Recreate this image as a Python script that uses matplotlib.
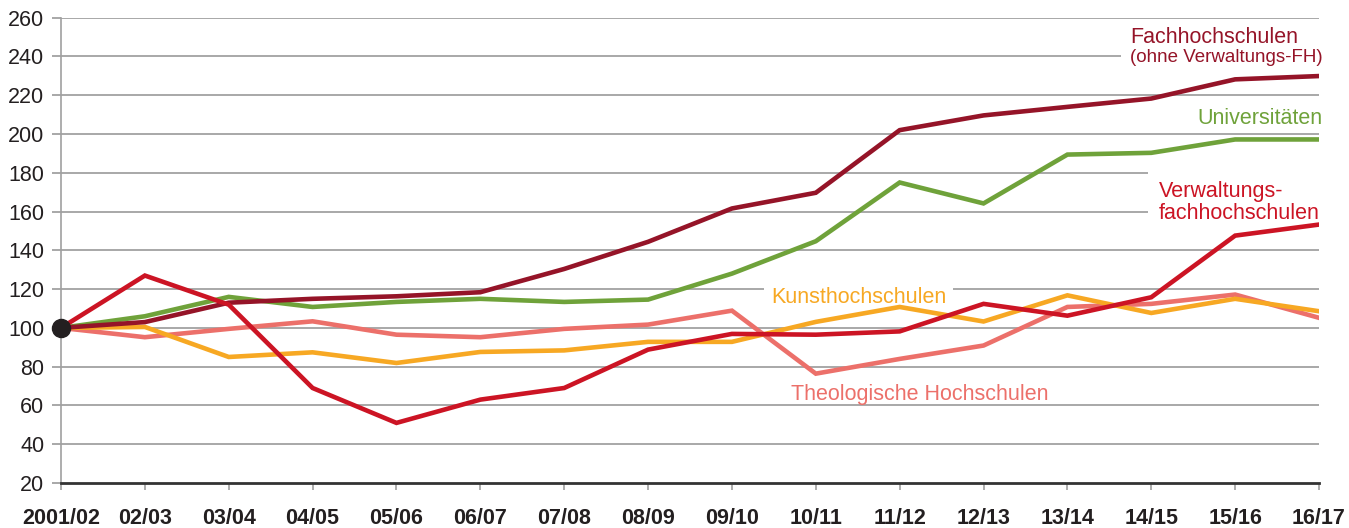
import matplotlib
matplotlib.use("Agg")
import matplotlib.pyplot as plt

plt.rcParams['font.family'] = ['Liberation Sans', 'DejaVu Sans']

years = ["2001/02", "02/03", "03/04", "04/05", "05/06", "06/07", "07/08", "08/09",
         "09/10", "10/11", "11/12", "12/13", "13/14", "14/15", "15/16", "16/17"]

fachhochschulen = [100, 103, 113, 115, 116.3, 118.4, 130.4, 144.4, 161.6, 169.7,
                   202, 209.6, 214, 218.3, 228.2, 229.9]
universitaeten = [100, 106, 116, 110.8, 113.4, 115, 113.4, 114.6, 128, 144.7,
                  175, 164.2, 189.4, 190.3, 197.2, 197.2]
verwaltungs_fh = [100, 127, 112, 69, 51, 63, 69, 88.8, 96.9, 96.5,
                  98.2, 112.4, 106.3, 115.8, 147.6, 153.3]
kunsthochschulen = [100, 100.5, 85, 87.4, 81.9, 87.6, 88.4, 92.8, 92.8, 103.1,
                    110.8, 103.3, 116.8, 107.7, 115, 108.6]
theologische = [100, 95.2, 99.5, 103.4, 96.5, 95.2, 99.5, 101.7, 108.9, 76.4,
                84, 90.9, 110.8, 112.4, 117.2, 105.2]

y_ticks = list(range(20, 261, 20))

c_fh = "#951428"
c_uni = "#6fa23a"
c_vfh = "#cc1424"
c_kunst = "#f7a823"
c_theo = "#ec706a"

fig = plt.figure(figsize=(13.49, 5.28), dpi=100)
ax = fig.add_axes([61/1349, 45/528, (1319-61)/1349, (510.3-45)/528])

x = list(range(len(years)))
ax.set_xlim(0, len(years) - 1)
ax.set_ylim(20, 260)

for yv in y_ticks[1:]:
    ax.axhline(yv, color="#a8a8a8", lw=1.4, zorder=1)

lw = 3.3
ax.plot(x, theologische, color=c_theo, lw=lw, zorder=3, solid_joinstyle="miter")
ax.plot(x, kunsthochschulen, color=c_kunst, lw=lw, zorder=3.1, solid_joinstyle="miter")
ax.plot(x, universitaeten, color=c_uni, lw=lw, zorder=3.2, solid_joinstyle="miter")
ax.plot(x, fachhochschulen, color=c_fh, lw=lw, zorder=3.3, solid_joinstyle="miter")
ax.plot(x, verwaltungs_fh, color=c_vfh, lw=lw, zorder=3.4, solid_joinstyle="miter")
ax.plot([0], [100], 'o', color="#231f20", ms=13, zorder=5, clip_on=False)

for s in ["top", "right"]:
    ax.spines[s].set_visible(False)
ax.spines["left"].set_color("#a0a0a0")
ax.spines["left"].set_linewidth(1.2)
ax.spines["bottom"].set_color("#333333")
ax.spines["bottom"].set_linewidth(2)
ax.spines["bottom"].set_zorder(4)

ax.set_xticks(x)
ax.set_xticklabels(years, fontsize=15.5, fontweight="bold", color="#231f20")
ax.set_yticks(y_ticks)
ax.set_yticklabels([str(v) for v in y_ticks], fontsize=15.5, color="#231f20")
ax.tick_params(axis="x", direction="out", length=5, width=1.2, color="#a0a0a0", pad=13)
ax.tick_params(axis="y", direction="out", length=6.5, width=1.4, color="#a8a8a8", pad=5.5)

ax.text(12.75, 239.5, "(ohne Verwaltungs-FH)", color=c_fh, fontsize=13.5, ha="left", va="center",
        zorder=2, bbox=dict(facecolor="white", edgecolor="none", pad=7))
ax.text(12.75, 249.8, "Fachhochschulen", color=c_fh, fontsize=15.5, ha="left", va="center", zorder=2.5)
ax.text(15.04, 208.0, "Universitäten", color=c_uni, fontsize=15.5, ha="right", va="center", zorder=2)
ax.text(13.09, 164.7, "Verwaltungs-\nfachhochschulen", color=c_vfh, fontsize=15.5, ha="left",
        va="center", zorder=2, linespacing=1.02, bbox=dict(facecolor="white", edgecolor="none", pad=8))
ax.text(8.47, 115.6, "Kunsthochschulen", color=c_kunst, fontsize=15.5, ha="left", va="center",
        zorder=2, bbox=dict(facecolor="white", edgecolor="none", pad=5))
ax.text(8.71, 65.6, "Theologische Hochschulen", color=c_theo, fontsize=15.5, ha="left", va="center", zorder=2)

fig.savefig("out.png", dpi=100)
